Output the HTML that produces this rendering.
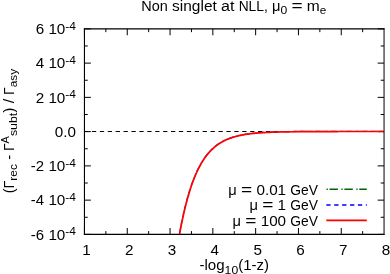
<!DOCTYPE html>
<html><head><meta charset="utf-8"><title>Non singlet at NLL</title>
<style>
html,body{margin:0;padding:0;background:#fff;}
body{width:390px;height:274px;overflow:hidden;}
svg{display:block;will-change:transform;}
text{font-family:"Liberation Sans",sans-serif;fill:#000;white-space:pre;}
</style></head><body>
<svg width="390" height="274" viewBox="0 0 390 274">
<defs><clipPath id="c"><rect x="84.45" y="28.85" width="299.6" height="205.55"/></clipPath></defs>
<rect width="390" height="274" fill="#fff"/>
<line x1="84.0" y1="131.50" x2="384.05" y2="131.50" stroke="#000" stroke-width="1" stroke-dasharray="4.3 3.61" />
<path d="M84.45,234.4 v-6.4 M84.45,28.85 v6.4 M105.85,234.4 v-3.3 M105.85,28.85 v3.3 M127.25,234.4 v-6.4 M127.25,28.85 v6.4 M148.65,234.4 v-3.3 M148.65,28.85 v3.3 M170.05,234.4 v-6.4 M170.05,28.85 v6.4 M191.45,234.4 v-3.3 M191.45,28.85 v3.3 M212.85,234.4 v-6.4 M212.85,28.85 v6.4 M234.25,234.4 v-3.3 M234.25,28.85 v3.3 M255.65,234.4 v-6.4 M255.65,28.85 v6.4 M277.05,234.4 v-3.3 M277.05,28.85 v3.3 M298.45,234.4 v-6.4 M298.45,28.85 v6.4 M319.85,234.4 v-3.3 M319.85,28.85 v3.3 M341.25,234.4 v-6.4 M341.25,28.85 v6.4 M362.65,234.4 v-3.3 M362.65,28.85 v3.3 M84.45,28.85 h6.4 M384.05,28.85 h-6.4 M84.45,45.98 h3.3 M384.05,45.98 h-3.3 M84.45,63.11 h6.4 M384.05,63.11 h-6.4 M84.45,80.24 h3.3 M384.05,80.24 h-3.3 M84.45,97.37 h6.4 M384.05,97.37 h-6.4 M84.45,114.50 h3.3 M384.05,114.50 h-3.3 M84.45,131.62 h6.4 M384.05,131.62 h-6.4 M84.45,148.75 h3.3 M384.05,148.75 h-3.3 M84.45,165.88 h6.4 M384.05,165.88 h-6.4 M84.45,183.01 h3.3 M384.05,183.01 h-3.3 M84.45,200.14 h6.4 M384.05,200.14 h-6.4 M84.45,217.27 h3.3 M384.05,217.27 h-3.3 M84.45,234.40 h6.4 M384.05,234.40 h-6.4" stroke="#000" stroke-width="1" fill="none"/>
<path d="M170.05,302.80 L170.59,297.92 L171.12,293.19 L171.66,288.59 L172.20,284.12 L172.73,279.78 L173.27,275.57 L173.80,271.47 L174.34,267.49 L174.88,263.62 L175.41,259.86 L175.95,256.21 L176.49,252.67 L177.02,249.22 L177.56,245.87 L178.10,242.62 L178.63,239.46 L179.17,236.39 L179.70,233.40 L180.24,230.51 L180.78,227.69 L181.31,224.95 L181.85,222.30 L182.39,219.71 L182.92,217.21 L183.46,214.77 L183.99,212.40 L184.53,210.10 L185.07,207.86 L185.60,205.69 L186.14,203.58 L186.68,201.53 L187.21,199.54 L187.75,197.61 L188.29,195.73 L188.82,193.90 L189.36,192.12 L189.89,190.40 L190.43,188.72 L190.97,187.10 L191.50,185.52 L192.04,183.98 L192.58,182.49 L193.11,181.04 L193.65,179.63 L194.19,178.26 L194.72,176.93 L195.26,175.64 L195.79,174.38 L196.33,173.16 L196.87,171.98 L197.40,170.83 L197.94,169.71 L198.48,168.62 L199.01,167.57 L199.55,166.54 L200.09,165.54 L200.62,164.58 L201.16,163.64 L201.69,162.72 L202.23,161.83 L202.77,160.97 L203.30,160.13 L203.84,159.32 L204.38,158.53 L204.91,157.76 L205.45,157.01 L205.98,156.29 L206.52,155.58 L207.06,154.90 L207.59,154.23 L208.13,153.59 L208.67,152.96 L209.20,152.35 L209.74,151.75 L210.28,151.18 L210.81,150.62 L211.35,150.08 L211.88,149.55 L212.42,149.03 L212.96,148.54 L213.49,148.05 L214.03,147.58 L214.57,147.12 L215.10,146.68 L215.64,146.25 L216.18,145.83 L216.71,145.42 L217.25,145.03 L217.78,144.64 L218.32,144.27 L218.86,143.90 L219.39,143.55 L219.93,143.21 L220.47,142.88 L221.00,142.55 L221.54,142.24 L222.08,141.93 L222.61,141.64 L223.15,141.35 L223.68,141.07 L224.22,140.80 L224.76,140.53 L225.29,140.28 L225.83,140.03 L226.37,139.78 L226.90,139.55 L227.44,139.32 L227.97,139.10 L228.51,138.88 L229.05,138.67 L229.58,138.47 L230.12,138.27 L230.66,138.08 L231.19,137.89 L231.73,137.71 L232.27,137.53 L232.80,137.36 L233.34,137.19 L233.87,137.03 L234.41,136.88 L234.95,136.72 L235.48,136.57 L236.02,136.43 L236.56,136.29 L237.09,136.15 L237.63,136.02 L238.17,135.89 L238.70,135.77 L239.24,135.65 L239.77,135.53 L240.31,135.41 L240.85,135.30 L241.38,135.20 L241.92,135.09 L242.46,134.99 L242.99,134.89 L243.53,134.79 L244.07,134.70 L244.60,134.61 L245.14,134.52 L245.67,134.43 L246.21,134.35 L246.75,134.27 L247.28,134.19 L247.82,134.12 L248.36,134.04 L248.89,133.97 L249.43,133.90 L249.96,133.83 L250.50,133.76 L251.04,133.70 L251.57,133.64 L252.11,133.58 L252.65,133.52 L253.18,133.46 L253.72,133.41 L254.26,133.35 L254.79,133.30 L255.33,133.25 L255.86,133.20 L256.40,133.15 L256.94,133.10 L257.47,133.06 L258.01,133.01 L258.55,132.97 L259.08,132.93 L259.62,132.89 L260.16,132.85 L260.69,132.81 L261.23,132.77 L261.76,132.74 L262.30,132.70 L262.84,132.67 L263.37,132.64 L263.91,132.60 L264.45,132.57 L264.98,132.54 L265.52,132.51 L266.06,132.48 L266.59,132.46 L267.13,132.43 L267.66,132.40 L268.20,132.38 L268.74,132.35 L269.27,132.33 L269.81,132.30 L270.35,132.28 L270.88,132.26 L271.42,132.24 L271.95,132.22 L272.49,132.20 L273.03,132.18 L273.56,132.16 L274.10,132.14 L274.64,132.12 L275.17,132.10 L275.71,132.09 L276.25,132.07 L276.78,132.05 L277.32,132.04 L277.85,132.02 L278.39,132.01 L278.93,131.99 L279.46,131.98 L280.00,131.97 L280.54,131.95 L281.07,131.94 L281.61,131.93 L282.15,131.92 L282.68,131.91 L283.22,131.89 L283.75,131.88 L284.29,131.87 L284.83,131.86 L285.36,131.85 L285.90,131.84 L286.44,131.83 L286.97,131.82 L287.51,131.81 L288.04,131.80 L288.58,131.80 L289.12,131.79 L289.65,131.78 L290.19,131.77 L290.73,131.76 L291.26,131.76 L291.80,131.75 L292.34,131.74 L292.87,131.74 L293.41,131.73 L293.94,131.72 L294.48,131.72 L295.02,131.71 L295.55,131.71 L296.09,131.70 L296.63,131.69 L297.16,131.69 L297.70,131.68 L298.24,131.68 L298.77,131.67 L299.31,131.67 L299.84,131.66 L300.38,131.66 L300.92,131.66 L301.45,131.65 L301.99,131.65 L302.53,131.64 L303.06,131.64 L303.60,131.63 L304.14,131.63 L304.67,131.63 L305.21,131.62 L305.74,131.62 L306.28,131.62 L306.82,131.61 L307.35,131.61 L307.89,131.61 L308.43,131.61 L308.96,131.60 L309.50,131.60 L310.03,131.60 L310.57,131.59 L311.11,131.59 L311.64,131.59 L312.18,131.59 L312.72,131.58 L313.25,131.58 L313.79,131.58 L314.33,131.58 L314.86,131.58 L315.40,131.57 L315.93,131.57 L316.47,131.57 L317.01,131.57 L317.54,131.57 L318.08,131.56 L318.62,131.56 L319.15,131.56 L319.69,131.56 L320.23,131.56 L320.76,131.56 L321.30,131.56 L321.83,131.55 L322.37,131.55 L322.91,131.55 L323.44,131.55 L323.98,131.55 L324.52,131.55 L325.05,131.55 L325.59,131.54 L326.13,131.54 L326.66,131.54 L327.20,131.54 L327.73,131.54 L328.27,131.54 L328.81,131.54 L329.34,131.54 L329.88,131.54 L330.42,131.54 L330.95,131.53 L331.49,131.53 L332.02,131.53 L332.56,131.53 L333.10,131.53 L333.63,131.53 L334.17,131.53 L334.71,131.53 L335.24,131.53 L335.78,131.53 L336.32,131.53 L336.85,131.53 L337.39,131.53 L337.92,131.53 L338.46,131.52 L339.00,131.52 L339.53,131.52 L340.07,131.52 L340.61,131.52 L341.14,131.52 L341.68,131.52 L342.22,131.52 L342.75,131.52 L343.29,131.52 L343.82,131.52 L344.36,131.52 L344.90,131.52 L345.43,131.52 L345.97,131.52 L346.51,131.52 L347.04,131.52 L347.58,131.52 L348.12,131.52 L348.65,131.52 L349.19,131.52 L349.72,131.52 L350.26,131.52 L350.80,131.52 L351.33,131.51 L351.87,131.51 L352.41,131.51 L352.94,131.51 L353.48,131.51 L354.01,131.51 L354.55,131.51 L355.09,131.51 L355.62,131.51 L356.16,131.51 L356.70,131.51 L357.23,131.51 L357.77,131.51 L358.31,131.51 L358.84,131.51 L359.38,131.51 L359.91,131.51 L360.45,131.51 L360.99,131.51 L361.52,131.51 L362.06,131.51 L362.60,131.51 L363.13,131.51 L363.67,131.51 L364.21,131.51 L364.74,131.51 L365.28,131.51 L365.81,131.51 L366.35,131.51 L366.89,131.51 L367.42,131.51 L367.96,131.51 L368.50,131.51 L369.03,131.51 L369.57,131.51 L370.11,131.51 L370.64,131.51 L371.18,131.51 L371.71,131.51 L372.25,131.51 L372.79,131.51 L373.32,131.51 L373.86,131.51 L374.40,131.51 L374.93,131.51 L375.47,131.51 L376.00,131.51 L376.54,131.51 L377.08,131.51 L377.61,131.51 L378.15,131.51 L378.69,131.51 L379.22,131.51 L379.76,131.51 L380.30,131.51 L380.83,131.51 L381.37,131.51 L381.90,131.51 L382.44,131.51 L382.98,131.51 L383.51,131.51 L384.05,131.51" fill="none" stroke="#006400" stroke-width="1.3" stroke-dasharray="8.4 3.5 1.3 1.7" stroke-opacity="0.55" transform="translate(-0.2,-0.2)" clip-path="url(#c)"/>
<path d="M170.05,302.80 L170.59,297.92 L171.12,293.19 L171.66,288.59 L172.20,284.12 L172.73,279.78 L173.27,275.57 L173.80,271.47 L174.34,267.49 L174.88,263.62 L175.41,259.86 L175.95,256.21 L176.49,252.67 L177.02,249.22 L177.56,245.87 L178.10,242.62 L178.63,239.46 L179.17,236.39 L179.70,233.40 L180.24,230.51 L180.78,227.69 L181.31,224.95 L181.85,222.30 L182.39,219.71 L182.92,217.21 L183.46,214.77 L183.99,212.40 L184.53,210.10 L185.07,207.86 L185.60,205.69 L186.14,203.58 L186.68,201.53 L187.21,199.54 L187.75,197.61 L188.29,195.73 L188.82,193.90 L189.36,192.12 L189.89,190.40 L190.43,188.72 L190.97,187.10 L191.50,185.52 L192.04,183.98 L192.58,182.49 L193.11,181.04 L193.65,179.63 L194.19,178.26 L194.72,176.93 L195.26,175.64 L195.79,174.38 L196.33,173.16 L196.87,171.98 L197.40,170.83 L197.94,169.71 L198.48,168.62 L199.01,167.57 L199.55,166.54 L200.09,165.54 L200.62,164.58 L201.16,163.64 L201.69,162.72 L202.23,161.83 L202.77,160.97 L203.30,160.13 L203.84,159.32 L204.38,158.53 L204.91,157.76 L205.45,157.01 L205.98,156.29 L206.52,155.58 L207.06,154.90 L207.59,154.23 L208.13,153.59 L208.67,152.96 L209.20,152.35 L209.74,151.75 L210.28,151.18 L210.81,150.62 L211.35,150.08 L211.88,149.55 L212.42,149.03 L212.96,148.54 L213.49,148.05 L214.03,147.58 L214.57,147.12 L215.10,146.68 L215.64,146.25 L216.18,145.83 L216.71,145.42 L217.25,145.03 L217.78,144.64 L218.32,144.27 L218.86,143.90 L219.39,143.55 L219.93,143.21 L220.47,142.88 L221.00,142.55 L221.54,142.24 L222.08,141.93 L222.61,141.64 L223.15,141.35 L223.68,141.07 L224.22,140.80 L224.76,140.53 L225.29,140.28 L225.83,140.03 L226.37,139.78 L226.90,139.55 L227.44,139.32 L227.97,139.10 L228.51,138.88 L229.05,138.67 L229.58,138.47 L230.12,138.27 L230.66,138.08 L231.19,137.89 L231.73,137.71 L232.27,137.53 L232.80,137.36 L233.34,137.19 L233.87,137.03 L234.41,136.88 L234.95,136.72 L235.48,136.57 L236.02,136.43 L236.56,136.29 L237.09,136.15 L237.63,136.02 L238.17,135.89 L238.70,135.77 L239.24,135.65 L239.77,135.53 L240.31,135.41 L240.85,135.30 L241.38,135.20 L241.92,135.09 L242.46,134.99 L242.99,134.89 L243.53,134.79 L244.07,134.70 L244.60,134.61 L245.14,134.52 L245.67,134.43 L246.21,134.35 L246.75,134.27 L247.28,134.19 L247.82,134.12 L248.36,134.04 L248.89,133.97 L249.43,133.90 L249.96,133.83 L250.50,133.76 L251.04,133.70 L251.57,133.64 L252.11,133.58 L252.65,133.52 L253.18,133.46 L253.72,133.41 L254.26,133.35 L254.79,133.30 L255.33,133.25 L255.86,133.20 L256.40,133.15 L256.94,133.10 L257.47,133.06 L258.01,133.01 L258.55,132.97 L259.08,132.93 L259.62,132.89 L260.16,132.85 L260.69,132.81 L261.23,132.77 L261.76,132.74 L262.30,132.70 L262.84,132.67 L263.37,132.64 L263.91,132.60 L264.45,132.57 L264.98,132.54 L265.52,132.51 L266.06,132.48 L266.59,132.46 L267.13,132.43 L267.66,132.40 L268.20,132.38 L268.74,132.35 L269.27,132.33 L269.81,132.30 L270.35,132.28 L270.88,132.26 L271.42,132.24 L271.95,132.22 L272.49,132.20 L273.03,132.18 L273.56,132.16 L274.10,132.14 L274.64,132.12 L275.17,132.10 L275.71,132.09 L276.25,132.07 L276.78,132.05 L277.32,132.04 L277.85,132.02 L278.39,132.01 L278.93,131.99 L279.46,131.98 L280.00,131.97 L280.54,131.95 L281.07,131.94 L281.61,131.93 L282.15,131.92 L282.68,131.91 L283.22,131.89 L283.75,131.88 L284.29,131.87 L284.83,131.86 L285.36,131.85 L285.90,131.84 L286.44,131.83 L286.97,131.82 L287.51,131.81 L288.04,131.80 L288.58,131.80 L289.12,131.79 L289.65,131.78 L290.19,131.77 L290.73,131.76 L291.26,131.76 L291.80,131.75 L292.34,131.74 L292.87,131.74 L293.41,131.73 L293.94,131.72 L294.48,131.72 L295.02,131.71 L295.55,131.71 L296.09,131.70 L296.63,131.69 L297.16,131.69 L297.70,131.68 L298.24,131.68 L298.77,131.67 L299.31,131.67 L299.84,131.66 L300.38,131.66 L300.92,131.66 L301.45,131.65 L301.99,131.65 L302.53,131.64 L303.06,131.64 L303.60,131.63 L304.14,131.63 L304.67,131.63 L305.21,131.62 L305.74,131.62 L306.28,131.62 L306.82,131.61 L307.35,131.61 L307.89,131.61 L308.43,131.61 L308.96,131.60 L309.50,131.60 L310.03,131.60 L310.57,131.59 L311.11,131.59 L311.64,131.59 L312.18,131.59 L312.72,131.58 L313.25,131.58 L313.79,131.58 L314.33,131.58 L314.86,131.58 L315.40,131.57 L315.93,131.57 L316.47,131.57 L317.01,131.57 L317.54,131.57 L318.08,131.56 L318.62,131.56 L319.15,131.56 L319.69,131.56 L320.23,131.56 L320.76,131.56 L321.30,131.56 L321.83,131.55 L322.37,131.55 L322.91,131.55 L323.44,131.55 L323.98,131.55 L324.52,131.55 L325.05,131.55 L325.59,131.54 L326.13,131.54 L326.66,131.54 L327.20,131.54 L327.73,131.54 L328.27,131.54 L328.81,131.54 L329.34,131.54 L329.88,131.54 L330.42,131.54 L330.95,131.53 L331.49,131.53 L332.02,131.53 L332.56,131.53 L333.10,131.53 L333.63,131.53 L334.17,131.53 L334.71,131.53 L335.24,131.53 L335.78,131.53 L336.32,131.53 L336.85,131.53 L337.39,131.53 L337.92,131.53 L338.46,131.52 L339.00,131.52 L339.53,131.52 L340.07,131.52 L340.61,131.52 L341.14,131.52 L341.68,131.52 L342.22,131.52 L342.75,131.52 L343.29,131.52 L343.82,131.52 L344.36,131.52 L344.90,131.52 L345.43,131.52 L345.97,131.52 L346.51,131.52 L347.04,131.52 L347.58,131.52 L348.12,131.52 L348.65,131.52 L349.19,131.52 L349.72,131.52 L350.26,131.52 L350.80,131.52 L351.33,131.51 L351.87,131.51 L352.41,131.51 L352.94,131.51 L353.48,131.51 L354.01,131.51 L354.55,131.51 L355.09,131.51 L355.62,131.51 L356.16,131.51 L356.70,131.51 L357.23,131.51 L357.77,131.51 L358.31,131.51 L358.84,131.51 L359.38,131.51 L359.91,131.51 L360.45,131.51 L360.99,131.51 L361.52,131.51 L362.06,131.51 L362.60,131.51 L363.13,131.51 L363.67,131.51 L364.21,131.51 L364.74,131.51 L365.28,131.51 L365.81,131.51 L366.35,131.51 L366.89,131.51 L367.42,131.51 L367.96,131.51 L368.50,131.51 L369.03,131.51 L369.57,131.51 L370.11,131.51 L370.64,131.51 L371.18,131.51 L371.71,131.51 L372.25,131.51 L372.79,131.51 L373.32,131.51 L373.86,131.51 L374.40,131.51 L374.93,131.51 L375.47,131.51 L376.00,131.51 L376.54,131.51 L377.08,131.51 L377.61,131.51 L378.15,131.51 L378.69,131.51 L379.22,131.51 L379.76,131.51 L380.30,131.51 L380.83,131.51 L381.37,131.51 L381.90,131.51 L382.44,131.51 L382.98,131.51 L383.51,131.51 L384.05,131.51" fill="none" stroke="#0000ff" stroke-width="1.3" stroke-dasharray="4.3 3.61" stroke-opacity="0.55" transform="translate(-0.2,-0.2)" clip-path="url(#c)"/>
<path d="M170.05,302.80 L170.59,297.92 L171.12,293.19 L171.66,288.59 L172.20,284.12 L172.73,279.78 L173.27,275.57 L173.80,271.47 L174.34,267.49 L174.88,263.62 L175.41,259.86 L175.95,256.21 L176.49,252.67 L177.02,249.22 L177.56,245.87 L178.10,242.62 L178.63,239.46 L179.17,236.39 L179.70,233.40 L180.24,230.51 L180.78,227.69 L181.31,224.95 L181.85,222.30 L182.39,219.71 L182.92,217.21 L183.46,214.77 L183.99,212.40 L184.53,210.10 L185.07,207.86 L185.60,205.69 L186.14,203.58 L186.68,201.53 L187.21,199.54 L187.75,197.61 L188.29,195.73 L188.82,193.90 L189.36,192.12 L189.89,190.40 L190.43,188.72 L190.97,187.10 L191.50,185.52 L192.04,183.98 L192.58,182.49 L193.11,181.04 L193.65,179.63 L194.19,178.26 L194.72,176.93 L195.26,175.64 L195.79,174.38 L196.33,173.16 L196.87,171.98 L197.40,170.83 L197.94,169.71 L198.48,168.62 L199.01,167.57 L199.55,166.54 L200.09,165.54 L200.62,164.58 L201.16,163.64 L201.69,162.72 L202.23,161.83 L202.77,160.97 L203.30,160.13 L203.84,159.32 L204.38,158.53 L204.91,157.76 L205.45,157.01 L205.98,156.29 L206.52,155.58 L207.06,154.90 L207.59,154.23 L208.13,153.59 L208.67,152.96 L209.20,152.35 L209.74,151.75 L210.28,151.18 L210.81,150.62 L211.35,150.08 L211.88,149.55 L212.42,149.03 L212.96,148.54 L213.49,148.05 L214.03,147.58 L214.57,147.12 L215.10,146.68 L215.64,146.25 L216.18,145.83 L216.71,145.42 L217.25,145.03 L217.78,144.64 L218.32,144.27 L218.86,143.90 L219.39,143.55 L219.93,143.21 L220.47,142.88 L221.00,142.55 L221.54,142.24 L222.08,141.93 L222.61,141.64 L223.15,141.35 L223.68,141.07 L224.22,140.80 L224.76,140.53 L225.29,140.28 L225.83,140.03 L226.37,139.78 L226.90,139.55 L227.44,139.32 L227.97,139.10 L228.51,138.88 L229.05,138.67 L229.58,138.47 L230.12,138.27 L230.66,138.08 L231.19,137.89 L231.73,137.71 L232.27,137.53 L232.80,137.36 L233.34,137.19 L233.87,137.03 L234.41,136.88 L234.95,136.72 L235.48,136.57 L236.02,136.43 L236.56,136.29 L237.09,136.15 L237.63,136.02 L238.17,135.89 L238.70,135.77 L239.24,135.65 L239.77,135.53 L240.31,135.41 L240.85,135.30 L241.38,135.20 L241.92,135.09 L242.46,134.99 L242.99,134.89 L243.53,134.79 L244.07,134.70 L244.60,134.61 L245.14,134.52 L245.67,134.43 L246.21,134.35 L246.75,134.27 L247.28,134.19 L247.82,134.12 L248.36,134.04 L248.89,133.97 L249.43,133.90 L249.96,133.83 L250.50,133.76 L251.04,133.70 L251.57,133.64 L252.11,133.58 L252.65,133.52 L253.18,133.46 L253.72,133.41 L254.26,133.35 L254.79,133.30 L255.33,133.25 L255.86,133.20 L256.40,133.15 L256.94,133.10 L257.47,133.06 L258.01,133.01 L258.55,132.97 L259.08,132.93 L259.62,132.89 L260.16,132.85 L260.69,132.81 L261.23,132.77 L261.76,132.74 L262.30,132.70 L262.84,132.67 L263.37,132.64 L263.91,132.60 L264.45,132.57 L264.98,132.54 L265.52,132.51 L266.06,132.48 L266.59,132.46 L267.13,132.43 L267.66,132.40 L268.20,132.38 L268.74,132.35 L269.27,132.33 L269.81,132.30 L270.35,132.28 L270.88,132.26 L271.42,132.24 L271.95,132.22 L272.49,132.20 L273.03,132.18 L273.56,132.16 L274.10,132.14 L274.64,132.12 L275.17,132.10 L275.71,132.09 L276.25,132.07 L276.78,132.05 L277.32,132.04 L277.85,132.02 L278.39,132.01 L278.93,131.99 L279.46,131.98 L280.00,131.97 L280.54,131.95 L281.07,131.94 L281.61,131.93 L282.15,131.92 L282.68,131.91 L283.22,131.89 L283.75,131.88 L284.29,131.87 L284.83,131.86 L285.36,131.85 L285.90,131.84 L286.44,131.83 L286.97,131.82 L287.51,131.81 L288.04,131.80 L288.58,131.80 L289.12,131.79 L289.65,131.78 L290.19,131.77 L290.73,131.76 L291.26,131.76 L291.80,131.75 L292.34,131.74 L292.87,131.74 L293.41,131.73 L293.94,131.72 L294.48,131.72 L295.02,131.71 L295.55,131.71 L296.09,131.70 L296.63,131.69 L297.16,131.69 L297.70,131.68 L298.24,131.68 L298.77,131.67 L299.31,131.67 L299.84,131.66 L300.38,131.66 L300.92,131.66 L301.45,131.65 L301.99,131.65 L302.53,131.64 L303.06,131.64 L303.60,131.63 L304.14,131.63 L304.67,131.63 L305.21,131.62 L305.74,131.62 L306.28,131.62 L306.82,131.61 L307.35,131.61 L307.89,131.61 L308.43,131.61 L308.96,131.60 L309.50,131.60 L310.03,131.60 L310.57,131.59 L311.11,131.59 L311.64,131.59 L312.18,131.59 L312.72,131.58 L313.25,131.58 L313.79,131.58 L314.33,131.58 L314.86,131.58 L315.40,131.57 L315.93,131.57 L316.47,131.57 L317.01,131.57 L317.54,131.57 L318.08,131.56 L318.62,131.56 L319.15,131.56 L319.69,131.56 L320.23,131.56 L320.76,131.56 L321.30,131.56 L321.83,131.55 L322.37,131.55 L322.91,131.55 L323.44,131.55 L323.98,131.55 L324.52,131.55 L325.05,131.55 L325.59,131.54 L326.13,131.54 L326.66,131.54 L327.20,131.54 L327.73,131.54 L328.27,131.54 L328.81,131.54 L329.34,131.54 L329.88,131.54 L330.42,131.54 L330.95,131.53 L331.49,131.53 L332.02,131.53 L332.56,131.53 L333.10,131.53 L333.63,131.53 L334.17,131.53 L334.71,131.53 L335.24,131.53 L335.78,131.53 L336.32,131.53 L336.85,131.53 L337.39,131.53 L337.92,131.53 L338.46,131.52 L339.00,131.52 L339.53,131.52 L340.07,131.52 L340.61,131.52 L341.14,131.52 L341.68,131.52 L342.22,131.52 L342.75,131.52 L343.29,131.52 L343.82,131.52 L344.36,131.52 L344.90,131.52 L345.43,131.52 L345.97,131.52 L346.51,131.52 L347.04,131.52 L347.58,131.52 L348.12,131.52 L348.65,131.52 L349.19,131.52 L349.72,131.52 L350.26,131.52 L350.80,131.52 L351.33,131.51 L351.87,131.51 L352.41,131.51 L352.94,131.51 L353.48,131.51 L354.01,131.51 L354.55,131.51 L355.09,131.51 L355.62,131.51 L356.16,131.51 L356.70,131.51 L357.23,131.51 L357.77,131.51 L358.31,131.51 L358.84,131.51 L359.38,131.51 L359.91,131.51 L360.45,131.51 L360.99,131.51 L361.52,131.51 L362.06,131.51 L362.60,131.51 L363.13,131.51 L363.67,131.51 L364.21,131.51 L364.74,131.51 L365.28,131.51 L365.81,131.51 L366.35,131.51 L366.89,131.51 L367.42,131.51 L367.96,131.51 L368.50,131.51 L369.03,131.51 L369.57,131.51 L370.11,131.51 L370.64,131.51 L371.18,131.51 L371.71,131.51 L372.25,131.51 L372.79,131.51 L373.32,131.51 L373.86,131.51 L374.40,131.51 L374.93,131.51 L375.47,131.51 L376.00,131.51 L376.54,131.51 L377.08,131.51 L377.61,131.51 L378.15,131.51 L378.69,131.51 L379.22,131.51 L379.76,131.51 L380.30,131.51 L380.83,131.51 L381.37,131.51 L381.90,131.51 L382.44,131.51 L382.98,131.51 L383.51,131.51 L384.05,131.51" fill="none" stroke="#ff0000" stroke-width="1.7" clip-path="url(#c)"/>
<path d="M84.45,28.3 V234.95000000000002" stroke="#000" stroke-width="1.1" fill="none"/>
<path d="M384.05,28.35 V234.9" stroke="#000" stroke-width="1.0" fill="none"/>
<path d="M83.9,28.85 H384.55" stroke="#000" stroke-width="1.1" fill="none"/>
<path d="M83.9,234.4 H384.55" stroke="#000" stroke-width="1.1" fill="none"/>
<line x1="326.3" y1="189.2" x2="366.8" y2="189.2" stroke="#006400" stroke-width="1.6" stroke-dasharray="8.4 3.5 1.3 1.7" stroke-dashoffset="11.7"/>
<line x1="326.3" y1="205.0" x2="366.8" y2="205.0" stroke="#0000ff" stroke-width="1.6" stroke-dasharray="4.3 3.61"/>
<line x1="326.3" y1="220.4" x2="366.8" y2="220.4" stroke="#ff0000" stroke-width="1.6"/>
<text x="141.30" y="10.50" font-size="14.0" textLength="26.58" lengthAdjust="spacingAndGlyphs">Non</text>
<text x="172.11" y="10.50" font-size="14.0" textLength="44.69" lengthAdjust="spacingAndGlyphs">singlet</text>
<text x="221.04" y="10.50" font-size="14.0" textLength="13.40" lengthAdjust="spacingAndGlyphs">at</text>
<text x="238.67" y="10.50" font-size="14.0" textLength="29.06" lengthAdjust="spacingAndGlyphs">NLL,</text>
<text x="271.97" y="10.50" font-size="14.0" textLength="8.48" lengthAdjust="spacingAndGlyphs">μ</text>
<text x="280.45" y="13.70" font-size="11.2" textLength="6.79" lengthAdjust="spacingAndGlyphs">0</text>
<text x="291.48" y="10.50" font-size="14.0" textLength="11.17" lengthAdjust="spacingAndGlyphs">=</text>
<text x="306.88" y="10.50" font-size="14.0" textLength="12.98" lengthAdjust="spacingAndGlyphs">m</text>
<text x="319.87" y="13.70" font-size="11.2" textLength="6.56" lengthAdjust="spacingAndGlyphs">e</text>
<text x="35.68" y="34.05" font-size="14.0" textLength="8.48" lengthAdjust="spacingAndGlyphs">6</text>
<text x="48.40" y="34.05" font-size="14.0" textLength="16.96" lengthAdjust="spacingAndGlyphs">10</text>
<text x="65.36" y="29.85" font-size="11.2" textLength="10.64" lengthAdjust="spacingAndGlyphs">-4</text>
<text x="35.68" y="68.31" font-size="14.0" textLength="8.48" lengthAdjust="spacingAndGlyphs">4</text>
<text x="48.40" y="68.31" font-size="14.0" textLength="16.96" lengthAdjust="spacingAndGlyphs">10</text>
<text x="65.36" y="64.11" font-size="11.2" textLength="10.64" lengthAdjust="spacingAndGlyphs">-4</text>
<text x="35.68" y="102.57" font-size="14.0" textLength="8.48" lengthAdjust="spacingAndGlyphs">2</text>
<text x="48.40" y="102.57" font-size="14.0" textLength="16.96" lengthAdjust="spacingAndGlyphs">10</text>
<text x="65.36" y="98.37" font-size="11.2" textLength="10.64" lengthAdjust="spacingAndGlyphs">-4</text>
<text x="54.80" y="136.82" font-size="14.0" textLength="21.20" lengthAdjust="spacingAndGlyphs">0.0</text>
<text x="30.87" y="171.08" font-size="14.0" textLength="13.29" lengthAdjust="spacingAndGlyphs">-2</text>
<text x="48.40" y="171.08" font-size="14.0" textLength="16.96" lengthAdjust="spacingAndGlyphs">10</text>
<text x="65.36" y="166.88" font-size="11.2" textLength="10.64" lengthAdjust="spacingAndGlyphs">-4</text>
<text x="30.87" y="205.34" font-size="14.0" textLength="13.29" lengthAdjust="spacingAndGlyphs">-4</text>
<text x="48.40" y="205.34" font-size="14.0" textLength="16.96" lengthAdjust="spacingAndGlyphs">10</text>
<text x="65.36" y="201.14" font-size="11.2" textLength="10.64" lengthAdjust="spacingAndGlyphs">-4</text>
<text x="30.87" y="239.60" font-size="14.0" textLength="13.29" lengthAdjust="spacingAndGlyphs">-6</text>
<text x="48.40" y="239.60" font-size="14.0" textLength="16.96" lengthAdjust="spacingAndGlyphs">10</text>
<text x="65.36" y="235.40" font-size="11.2" textLength="10.64" lengthAdjust="spacingAndGlyphs">-4</text>
<text x="82.21" y="254.60" font-size="14.0" textLength="8.48" lengthAdjust="spacingAndGlyphs">1</text>
<text x="125.01" y="254.60" font-size="14.0" textLength="8.48" lengthAdjust="spacingAndGlyphs">2</text>
<text x="167.81" y="254.60" font-size="14.0" textLength="8.48" lengthAdjust="spacingAndGlyphs">3</text>
<text x="210.61" y="254.60" font-size="14.0" textLength="8.48" lengthAdjust="spacingAndGlyphs">4</text>
<text x="253.41" y="254.60" font-size="14.0" textLength="8.48" lengthAdjust="spacingAndGlyphs">5</text>
<text x="296.21" y="254.60" font-size="14.0" textLength="8.48" lengthAdjust="spacingAndGlyphs">6</text>
<text x="339.01" y="254.60" font-size="14.0" textLength="8.48" lengthAdjust="spacingAndGlyphs">7</text>
<text x="381.81" y="254.60" font-size="14.0" textLength="8.48" lengthAdjust="spacingAndGlyphs">8</text>
<text x="199.50" y="270.40" font-size="14.0" textLength="25.13" lengthAdjust="spacingAndGlyphs">-log</text>
<text x="224.63" y="273.60" font-size="11.2" textLength="13.58" lengthAdjust="spacingAndGlyphs">10</text>
<text x="238.21" y="270.40" font-size="14.0" textLength="30.69" lengthAdjust="spacingAndGlyphs">(1-z)</text>
<text x="228.31" y="194.60" font-size="14.0" textLength="8.48" lengthAdjust="spacingAndGlyphs">μ</text>
<text x="241.03" y="194.60" font-size="14.0" textLength="11.17" lengthAdjust="spacingAndGlyphs">=</text>
<text x="256.43" y="194.60" font-size="14.0" textLength="29.68" lengthAdjust="spacingAndGlyphs">0.01</text>
<text x="290.35" y="194.60" font-size="14.0" textLength="27.65" lengthAdjust="spacingAndGlyphs">GeV</text>
<text x="249.51" y="210.10" font-size="14.0" textLength="8.48" lengthAdjust="spacingAndGlyphs">μ</text>
<text x="262.23" y="210.10" font-size="14.0" textLength="11.17" lengthAdjust="spacingAndGlyphs">=</text>
<text x="277.63" y="210.10" font-size="14.0" textLength="8.48" lengthAdjust="spacingAndGlyphs">1</text>
<text x="290.35" y="210.10" font-size="14.0" textLength="27.65" lengthAdjust="spacingAndGlyphs">GeV</text>
<text x="232.55" y="225.50" font-size="14.0" textLength="8.48" lengthAdjust="spacingAndGlyphs">μ</text>
<text x="245.26" y="225.50" font-size="14.0" textLength="11.17" lengthAdjust="spacingAndGlyphs">=</text>
<text x="260.67" y="225.50" font-size="14.0" textLength="25.44" lengthAdjust="spacingAndGlyphs">100</text>
<text x="290.35" y="225.50" font-size="14.0" textLength="27.65" lengthAdjust="spacingAndGlyphs">GeV</text>
<text x="13.60" y="193.30" font-size="14.0" textLength="12.63" lengthAdjust="spacingAndGlyphs" transform="rotate(-90 13.60 193.30)">(Γ</text>
<text x="16.80" y="180.67" font-size="11.2" textLength="16.58" lengthAdjust="spacingAndGlyphs" transform="rotate(-90 16.80 180.67)">rec</text>
<text x="13.60" y="159.85" font-size="14.0" textLength="4.81" lengthAdjust="spacingAndGlyphs" transform="rotate(-90 13.60 159.85)">-</text>
<text x="13.60" y="150.81" font-size="14.0" textLength="7.43" lengthAdjust="spacingAndGlyphs" transform="rotate(-90 13.60 150.81)">Γ</text>
<text x="9.00" y="143.38" font-size="11.2" textLength="7.30" lengthAdjust="spacingAndGlyphs" transform="rotate(-90 9.00 143.38)">A</text>
<text x="16.80" y="136.08" font-size="11.2" textLength="23.28" lengthAdjust="spacingAndGlyphs" transform="rotate(-90 16.80 136.08)">subt</text>
<text x="13.60" y="112.80" font-size="14.0" textLength="5.20" lengthAdjust="spacingAndGlyphs" transform="rotate(-90 13.60 112.80)">)</text>
<text x="13.60" y="103.36" font-size="14.0" textLength="4.49" lengthAdjust="spacingAndGlyphs" transform="rotate(-90 13.60 103.36)">/</text>
<text x="13.60" y="94.64" font-size="14.0" textLength="7.43" lengthAdjust="spacingAndGlyphs" transform="rotate(-90 13.60 94.64)">Γ</text>
<text x="16.80" y="87.21" font-size="11.2" textLength="18.41" lengthAdjust="spacingAndGlyphs" transform="rotate(-90 16.80 87.21)">asy</text>
</svg>
</body></html>
